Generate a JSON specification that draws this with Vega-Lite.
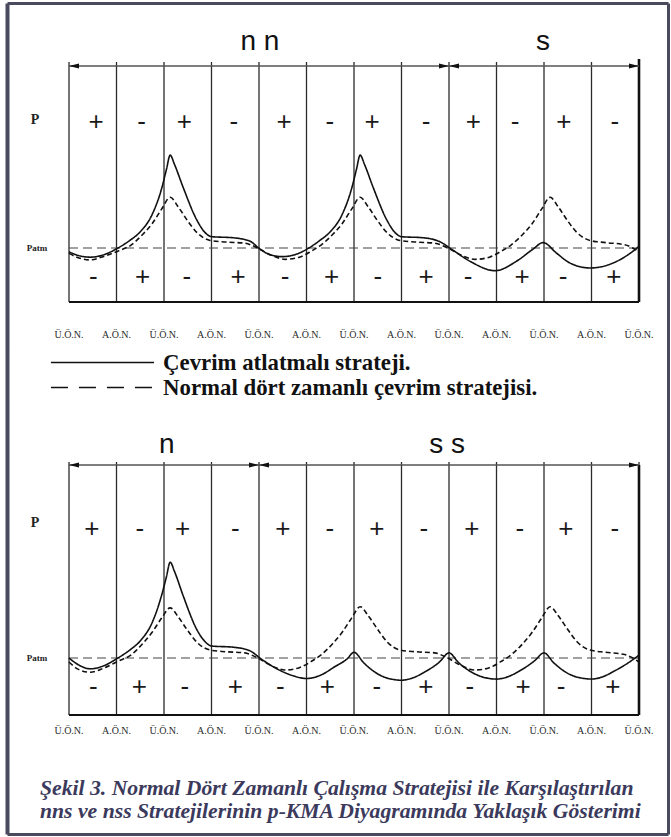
{
 "$schema": "https://vega.github.io/schema/vega-lite/v6.json",
 "padding": 0,
 "spacing": 0,
 "bounds": "flush",
 "background": "white",
 "config": {"view": {"stroke": null}},
 "resolve": {"scale": {"strokeDash": "independent"}},
 "datasets": {
  "grid": [{"s":0},{"s":1},{"s":2},{"s":3},{"s":4},{"s":5},{"s":6},{"s":7},{"s":8},{"s":9},{"s":10},{"s":11},{"s":12}],
  "dead_centres": [
   {"s":0,"label":"Ü.Ö.N."},{"s":1,"label":"A.Ö.N."},{"s":2,"label":"Ü.Ö.N."},{"s":3,"label":"A.Ö.N."},
   {"s":4,"label":"Ü.Ö.N."},{"s":5,"label":"A.Ö.N."},{"s":6,"label":"Ü.Ö.N."},{"s":7,"label":"A.Ö.N."},
   {"s":8,"label":"Ü.Ö.N."},{"s":9,"label":"A.Ö.N."},{"s":10,"label":"Ü.Ö.N."},{"s":11,"label":"A.Ö.N."},
   {"s":12,"label":"Ü.Ö.N."}
  ],
  "spans_top": [{"start":0,"end":8,"mid":4.02,"label":"n n"},{"start":8,"end":12,"mid":9.98,"label":"s"}],
  "spans_bottom": [{"start":0,"end":4,"mid":2.06,"label":"n"},{"start":4,"end":12,"mid":7.96,"label":"s s"}],
  "signs_top_upper": [
   {"s":0.57,"sign":"+"},{"s":1.53,"sign":"-"},{"s":2.43,"sign":"+"},{"s":3.47,"sign":"-"},
   {"s":4.53,"sign":"+"},{"s":5.49,"sign":"-"},{"s":6.38,"sign":"+"},{"s":7.52,"sign":"-"},
   {"s":8.51,"sign":"+"},{"s":9.39,"sign":"-"},{"s":10.42,"sign":"+"},{"s":11.49,"sign":"-"}
  ],
  "signs_top_lower": [
   {"s":0.51,"sign":"-"},{"s":1.55,"sign":"+"},{"s":2.48,"sign":"-"},{"s":3.56,"sign":"+"},
   {"s":4.55,"sign":"-"},{"s":5.53,"sign":"+"},{"s":6.5,"sign":"-"},{"s":7.52,"sign":"+"},
   {"s":8.4,"sign":"-"},{"s":9.54,"sign":"+"},{"s":10.4,"sign":"-"},{"s":11.47,"sign":"+"}
  ],
  "signs_bottom_upper": [
   {"s":0.48,"sign":"+"},{"s":1.49,"sign":"-"},{"s":2.39,"sign":"+"},{"s":3.5,"sign":"-"},
   {"s":4.5,"sign":"+"},{"s":5.49,"sign":"-"},{"s":6.48,"sign":"+"},{"s":7.47,"sign":"-"},
   {"s":8.48,"sign":"+"},{"s":9.49,"sign":"-"},{"s":10.46,"sign":"+"},{"s":11.49,"sign":"-"}
  ],
  "signs_bottom_lower": [
   {"s":0.51,"sign":"-"},{"s":1.48,"sign":"+"},{"s":2.44,"sign":"-"},{"s":3.5,"sign":"+"},
   {"s":4.45,"sign":"-"},{"s":5.44,"sign":"+"},{"s":6.48,"sign":"-"},{"s":7.51,"sign":"+"},
   {"s":8.44,"sign":"-"},{"s":9.56,"sign":"+"},{"s":10.36,"sign":"-"},{"s":11.45,"sign":"+"}
  ],
  "legend": [{"series":"Çevrim atlatmalı strateji."},{"series":"Normal dört zamanlı çevrim stratejisi."}],
  "top_curves": [
   {"s":0,"p":0.93,"series":"Çevrim atlatmalı strateji."},{"s":0.2,"p":0.86,"series":"Çevrim atlatmalı strateji."},{"s":0.45,"p":0.83,"series":"Çevrim atlatmalı strateji."},{"s":0.75,"p":0.88,"series":"Çevrim atlatmalı strateji."},{"s":1.03,"p":1.0,"series":"Çevrim atlatmalı strateji."},{"s":1.28,"p":1.14,"series":"Çevrim atlatmalı strateji."},{"s":1.5,"p":1.3,"series":"Çevrim atlatmalı strateji."},{"s":1.75,"p":1.62,"series":"Çevrim atlatmalı strateji."},{"s":1.95,"p":2.1,"series":"Çevrim atlatmalı strateji."},{"s":2.05,"p":2.45,"series":"Çevrim atlatmalı strateji."},{"s":2.13,"p":2.72,"series":"Çevrim atlatmalı strateji."},{"s":2.22,"p":2.55,"series":"Çevrim atlatmalı strateji."},{"s":2.4,"p":2.13,"series":"Çevrim atlatmalı strateji."},{"s":2.69,"p":1.52,"series":"Çevrim atlatmalı strateji."},{"s":2.85,"p":1.3,"series":"Çevrim atlatmalı strateji."},{"s":3.0,"p":1.21,"series":"Çevrim atlatmalı strateji."},{"s":3.45,"p":1.19,"series":"Çevrim atlatmalı strateji."},{"s":3.8,"p":1.13,"series":"Çevrim atlatmalı strateji."},{"s":4.05,"p":0.96,"series":"Çevrim atlatmalı strateji."},{"s":4.25,"p":0.87,"series":"Çevrim atlatmalı strateji."},{"s":4.5,"p":0.84,"series":"Çevrim atlatmalı strateji."},{"s":4.8,"p":0.89,"series":"Çevrim atlatmalı strateji."},{"s":5.05,"p":1.0,"series":"Çevrim atlatmalı strateji."},{"s":5.28,"p":1.14,"series":"Çevrim atlatmalı strateji."},{"s":5.5,"p":1.3,"series":"Çevrim atlatmalı strateji."},{"s":5.75,"p":1.62,"series":"Çevrim atlatmalı strateji."},{"s":5.95,"p":2.1,"series":"Çevrim atlatmalı strateji."},{"s":6.05,"p":2.45,"series":"Çevrim atlatmalı strateji."},{"s":6.13,"p":2.72,"series":"Çevrim atlatmalı strateji."},{"s":6.22,"p":2.55,"series":"Çevrim atlatmalı strateji."},{"s":6.4,"p":2.13,"series":"Çevrim atlatmalı strateji."},{"s":6.69,"p":1.52,"series":"Çevrim atlatmalı strateji."},{"s":6.85,"p":1.3,"series":"Çevrim atlatmalı strateji."},{"s":7.0,"p":1.21,"series":"Çevrim atlatmalı strateji."},{"s":7.45,"p":1.19,"series":"Çevrim atlatmalı strateji."},{"s":7.8,"p":1.12,"series":"Çevrim atlatmalı strateji."},{"s":8.05,"p":0.98,"series":"Çevrim atlatmalı strateji."},{"s":8.45,"p":0.75,"series":"Çevrim atlatmalı strateji."},{"s":8.97,"p":0.58,"series":"Çevrim atlatmalı strateji."},{"s":9.43,"p":0.76,"series":"Çevrim atlatmalı strateji."},{"s":9.77,"p":0.98,"series":"Çevrim atlatmalı strateji."},{"s":9.98,"p":1.1,"series":"Çevrim atlatmalı strateji."},{"s":10.27,"p":0.9,"series":"Çevrim atlatmalı strateji."},{"s":10.55,"p":0.72,"series":"Çevrim atlatmalı strateji."},{"s":10.97,"p":0.63,"series":"Çevrim atlatmalı strateji."},{"s":11.45,"p":0.72,"series":"Çevrim atlatmalı strateji."},{"s":11.81,"p":0.9,"series":"Çevrim atlatmalı strateji."},{"s":12.0,"p":1.03,"series":"Çevrim atlatmalı strateji."},
   {"s":0,"p":0.9,"series":"Normal dört zamanlı çevrim stratejisi."},{"s":0.2,"p":0.82,"series":"Normal dört zamanlı çevrim stratejisi."},{"s":0.45,"p":0.78,"series":"Normal dört zamanlı çevrim stratejisi."},{"s":0.75,"p":0.85,"series":"Normal dört zamanlı çevrim stratejisi."},{"s":1.05,"p":0.95,"series":"Normal dört zamanlı çevrim stratejisi."},{"s":1.3,"p":1.05,"series":"Normal dört zamanlı çevrim stratejisi."},{"s":1.55,"p":1.25,"series":"Normal dört zamanlı çevrim stratejisi."},{"s":1.75,"p":1.45,"series":"Normal dört zamanlı çevrim stratejisi."},{"s":1.95,"p":1.72,"series":"Normal dört zamanlı çevrim stratejisi."},{"s":2.13,"p":1.94,"series":"Normal dört zamanlı çevrim stratejisi."},{"s":2.3,"p":1.76,"series":"Normal dört zamanlı çevrim stratejisi."},{"s":2.5,"p":1.5,"series":"Normal dört zamanlı çevrim stratejisi."},{"s":2.7,"p":1.28,"series":"Normal dört zamanlı çevrim stratejisi."},{"s":2.97,"p":1.14,"series":"Normal dört zamanlı çevrim stratejisi."},{"s":3.3,"p":1.11,"series":"Normal dört zamanlı çevrim stratejisi."},{"s":3.7,"p":1.09,"series":"Normal dört zamanlı çevrim stratejisi."},{"s":3.95,"p":1.01,"series":"Normal dört zamanlı çevrim stratejisi."},{"s":4.25,"p":0.87,"series":"Normal dört zamanlı çevrim stratejisi."},{"s":4.55,"p":0.79,"series":"Normal dört zamanlı çevrim stratejisi."},{"s":4.85,"p":0.83,"series":"Normal dört zamanlı çevrim stratejisi."},{"s":5.1,"p":0.94,"series":"Normal dört zamanlı çevrim stratejisi."},{"s":5.3,"p":1.05,"series":"Normal dört zamanlı çevrim stratejisi."},{"s":5.55,"p":1.25,"series":"Normal dört zamanlı çevrim stratejisi."},{"s":5.75,"p":1.45,"series":"Normal dört zamanlı çevrim stratejisi."},{"s":5.95,"p":1.72,"series":"Normal dört zamanlı çevrim stratejisi."},{"s":6.13,"p":1.94,"series":"Normal dört zamanlı çevrim stratejisi."},{"s":6.3,"p":1.76,"series":"Normal dört zamanlı çevrim stratejisi."},{"s":6.5,"p":1.5,"series":"Normal dört zamanlı çevrim stratejisi."},{"s":6.7,"p":1.28,"series":"Normal dört zamanlı çevrim stratejisi."},{"s":6.97,"p":1.14,"series":"Normal dört zamanlı çevrim stratejisi."},{"s":7.3,"p":1.11,"series":"Normal dört zamanlı çevrim stratejisi."},{"s":7.7,"p":1.09,"series":"Normal dört zamanlı çevrim stratejisi."},{"s":7.95,"p":1.01,"series":"Normal dört zamanlı çevrim stratejisi."},{"s":8.25,"p":0.87,"series":"Normal dört zamanlı çevrim stratejisi."},{"s":8.55,"p":0.79,"series":"Normal dört zamanlı çevrim stratejisi."},{"s":8.85,"p":0.83,"series":"Normal dört zamanlı çevrim stratejisi."},{"s":9.1,"p":0.94,"series":"Normal dört zamanlı çevrim stratejisi."},{"s":9.3,"p":1.05,"series":"Normal dört zamanlı çevrim stratejisi."},{"s":9.55,"p":1.25,"series":"Normal dört zamanlı çevrim stratejisi."},{"s":9.75,"p":1.45,"series":"Normal dört zamanlı çevrim stratejisi."},{"s":9.95,"p":1.72,"series":"Normal dört zamanlı çevrim stratejisi."},{"s":10.13,"p":1.94,"series":"Normal dört zamanlı çevrim stratejisi."},{"s":10.3,"p":1.76,"series":"Normal dört zamanlı çevrim stratejisi."},{"s":10.5,"p":1.5,"series":"Normal dört zamanlı çevrim stratejisi."},{"s":10.7,"p":1.28,"series":"Normal dört zamanlı çevrim stratejisi."},{"s":10.97,"p":1.14,"series":"Normal dört zamanlı çevrim stratejisi."},{"s":11.3,"p":1.1,"series":"Normal dört zamanlı çevrim stratejisi."},{"s":11.7,"p":1.06,"series":"Normal dört zamanlı çevrim stratejisi."},{"s":12.0,"p":0.93,"series":"Normal dört zamanlı çevrim stratejisi."}
  ],
  "bottom_curves": [
   {"s":0,"p":1.0,"series":"Çevrim atlatmalı strateji."},{"s":0.2,"p":0.88,"series":"Çevrim atlatmalı strateji."},{"s":0.45,"p":0.81,"series":"Çevrim atlatmalı strateji."},{"s":0.75,"p":0.87,"series":"Çevrim atlatmalı strateji."},{"s":1.03,"p":1.0,"series":"Çevrim atlatmalı strateji."},{"s":1.28,"p":1.14,"series":"Çevrim atlatmalı strateji."},{"s":1.5,"p":1.3,"series":"Çevrim atlatmalı strateji."},{"s":1.75,"p":1.62,"series":"Çevrim atlatmalı strateji."},{"s":1.95,"p":2.1,"series":"Çevrim atlatmalı strateji."},{"s":2.05,"p":2.42,"series":"Çevrim atlatmalı strateji."},{"s":2.13,"p":2.68,"series":"Çevrim atlatmalı strateji."},{"s":2.22,"p":2.52,"series":"Çevrim atlatmalı strateji."},{"s":2.4,"p":2.1,"series":"Çevrim atlatmalı strateji."},{"s":2.69,"p":1.5,"series":"Çevrim atlatmalı strateji."},{"s":2.85,"p":1.3,"series":"Çevrim atlatmalı strateji."},{"s":3.0,"p":1.21,"series":"Çevrim atlatmalı strateji."},{"s":3.45,"p":1.19,"series":"Çevrim atlatmalı strateji."},{"s":3.8,"p":1.13,"series":"Çevrim atlatmalı strateji."},{"s":4.05,"p":0.98,"series":"Çevrim atlatmalı strateji."},{"s":4.4,"p":0.8,"series":"Çevrim atlatmalı strateji."},{"s":4.75,"p":0.68,"series":"Çevrim atlatmalı strateji."},{"s":5.0,"p":0.64,"series":"Çevrim atlatmalı strateji."},{"s":5.3,"p":0.7,"series":"Çevrim atlatmalı strateji."},{"s":5.6,"p":0.85,"series":"Çevrim atlatmalı strateji."},{"s":5.85,"p":0.98,"series":"Çevrim atlatmalı strateji."},{"s":6.0,"p":1.1,"series":"Çevrim atlatmalı strateji."},{"s":6.2,"p":0.92,"series":"Çevrim atlatmalı strateji."},{"s":6.5,"p":0.72,"series":"Çevrim atlatmalı strateji."},{"s":6.85,"p":0.62,"series":"Çevrim atlatmalı strateji."},{"s":7.0,"p":0.61,"series":"Çevrim atlatmalı strateji."},{"s":7.2,"p":0.64,"series":"Çevrim atlatmalı strateji."},{"s":7.5,"p":0.76,"series":"Çevrim atlatmalı strateji."},{"s":7.8,"p":0.93,"series":"Çevrim atlatmalı strateji."},{"s":8.0,"p":1.09,"series":"Çevrim atlatmalı strateji."},{"s":8.2,"p":0.92,"series":"Çevrim atlatmalı strateji."},{"s":8.5,"p":0.74,"series":"Çevrim atlatmalı strateji."},{"s":8.85,"p":0.64,"series":"Çevrim atlatmalı strateji."},{"s":9.0,"p":0.63,"series":"Çevrim atlatmalı strateji."},{"s":9.2,"p":0.66,"series":"Çevrim atlatmalı strateji."},{"s":9.5,"p":0.78,"series":"Çevrim atlatmalı strateji."},{"s":9.8,"p":0.95,"series":"Çevrim atlatmalı strateji."},{"s":10.0,"p":1.09,"series":"Çevrim atlatmalı strateji."},{"s":10.2,"p":0.92,"series":"Çevrim atlatmalı strateji."},{"s":10.5,"p":0.73,"series":"Çevrim atlatmalı strateji."},{"s":10.85,"p":0.64,"series":"Çevrim atlatmalı strateji."},{"s":11.0,"p":0.63,"series":"Çevrim atlatmalı strateji."},{"s":11.2,"p":0.66,"series":"Çevrim atlatmalı strateji."},{"s":11.5,"p":0.78,"series":"Çevrim atlatmalı strateji."},{"s":11.8,"p":0.93,"series":"Çevrim atlatmalı strateji."},{"s":12.0,"p":1.05,"series":"Çevrim atlatmalı strateji."},
   {"s":0,"p":0.93,"series":"Normal dört zamanlı çevrim stratejisi."},{"s":0.2,"p":0.8,"series":"Normal dört zamanlı çevrim stratejisi."},{"s":0.45,"p":0.75,"series":"Normal dört zamanlı çevrim stratejisi."},{"s":0.75,"p":0.83,"series":"Normal dört zamanlı çevrim stratejisi."},{"s":1.05,"p":0.95,"series":"Normal dört zamanlı çevrim stratejisi."},{"s":1.3,"p":1.05,"series":"Normal dört zamanlı çevrim stratejisi."},{"s":1.55,"p":1.25,"series":"Normal dört zamanlı çevrim stratejisi."},{"s":1.75,"p":1.45,"series":"Normal dört zamanlı çevrim stratejisi."},{"s":1.95,"p":1.7,"series":"Normal dört zamanlı çevrim stratejisi."},{"s":2.13,"p":1.88,"series":"Normal dört zamanlı çevrim stratejisi."},{"s":2.3,"p":1.72,"series":"Normal dört zamanlı çevrim stratejisi."},{"s":2.5,"p":1.48,"series":"Normal dört zamanlı çevrim stratejisi."},{"s":2.7,"p":1.27,"series":"Normal dört zamanlı çevrim stratejisi."},{"s":2.97,"p":1.14,"series":"Normal dört zamanlı çevrim stratejisi."},{"s":3.3,"p":1.11,"series":"Normal dört zamanlı çevrim stratejisi."},{"s":3.7,"p":1.09,"series":"Normal dört zamanlı çevrim stratejisi."},{"s":3.95,"p":1.01,"series":"Normal dört zamanlı çevrim stratejisi."},{"s":4.25,"p":0.87,"series":"Normal dört zamanlı çevrim stratejisi."},{"s":4.55,"p":0.79,"series":"Normal dört zamanlı çevrim stratejisi."},{"s":4.85,"p":0.83,"series":"Normal dört zamanlı çevrim stratejisi."},{"s":5.1,"p":0.94,"series":"Normal dört zamanlı çevrim stratejisi."},{"s":5.3,"p":1.05,"series":"Normal dört zamanlı çevrim stratejisi."},{"s":5.55,"p":1.25,"series":"Normal dört zamanlı çevrim stratejisi."},{"s":5.75,"p":1.45,"series":"Normal dört zamanlı çevrim stratejisi."},{"s":5.95,"p":1.7,"series":"Normal dört zamanlı çevrim stratejisi."},{"s":6.13,"p":1.9,"series":"Normal dört zamanlı çevrim stratejisi."},{"s":6.3,"p":1.74,"series":"Normal dört zamanlı çevrim stratejisi."},{"s":6.5,"p":1.5,"series":"Normal dört zamanlı çevrim stratejisi."},{"s":6.7,"p":1.28,"series":"Normal dört zamanlı çevrim stratejisi."},{"s":6.97,"p":1.14,"series":"Normal dört zamanlı çevrim stratejisi."},{"s":7.3,"p":1.11,"series":"Normal dört zamanlı çevrim stratejisi."},{"s":7.7,"p":1.09,"series":"Normal dört zamanlı çevrim stratejisi."},{"s":7.95,"p":1.01,"series":"Normal dört zamanlı çevrim stratejisi."},{"s":8.25,"p":0.87,"series":"Normal dört zamanlı çevrim stratejisi."},{"s":8.55,"p":0.79,"series":"Normal dört zamanlı çevrim stratejisi."},{"s":8.85,"p":0.83,"series":"Normal dört zamanlı çevrim stratejisi."},{"s":9.1,"p":0.94,"series":"Normal dört zamanlı çevrim stratejisi."},{"s":9.3,"p":1.05,"series":"Normal dört zamanlı çevrim stratejisi."},{"s":9.55,"p":1.25,"series":"Normal dört zamanlı çevrim stratejisi."},{"s":9.75,"p":1.45,"series":"Normal dört zamanlı çevrim stratejisi."},{"s":9.95,"p":1.7,"series":"Normal dört zamanlı çevrim stratejisi."},{"s":10.13,"p":1.9,"series":"Normal dört zamanlı çevrim stratejisi."},{"s":10.3,"p":1.74,"series":"Normal dört zamanlı çevrim stratejisi."},{"s":10.5,"p":1.5,"series":"Normal dört zamanlı çevrim stratejisi."},{"s":10.7,"p":1.28,"series":"Normal dört zamanlı çevrim stratejisi."},{"s":10.97,"p":1.14,"series":"Normal dört zamanlı çevrim stratejisi."},{"s":11.3,"p":1.1,"series":"Normal dört zamanlı çevrim stratejisi."},{"s":11.7,"p":1.06,"series":"Normal dört zamanlı çevrim stratejisi."},{"s":12.0,"p":0.93,"series":"Normal dört zamanlı çevrim stratejisi."}
  ]
 },
 "vconcat": [
  {
   "width": 671,
   "height": 350,
   "layer": [
    {"data": {"values": [{}]}, "mark": {"type": "rule", "stroke": "#4a4a5e", "strokeWidth": 4},
     "encoding": {"x": {"datum": -1.2947, "type": "quantitative", "scale": {"domain": [-1.4526, 12.6737], "nice": false, "zero": false}, "axis": null},
      "y": {"datum": 5.528, "type": "quantitative", "scale": {"domain": [-0.8889, 5.5926], "nice": false, "zero": false}, "axis": null},
      "y2": {"datum": -0.8889}}},
    {"data": {"values": [{}]}, "mark": {"type": "rule", "stroke": "#4a4a5e", "strokeWidth": 3},
     "encoding": {"x": {"datum": 12.621, "type": "quantitative", "scale": {"domain": [-1.4526, 12.6737], "nice": false, "zero": false}, "axis": null},
      "y": {"datum": 5.528, "type": "quantitative", "scale": {"domain": [-0.8889, 5.5926], "nice": false, "zero": false}, "axis": null},
      "y2": {"datum": -0.8889}}},
    {"data": {"values": [{}]}, "mark": {"type": "rule", "stroke": "#4a4a5e", "strokeWidth": 3},
     "encoding": {"x": {"datum": -1.2947, "type": "quantitative", "scale": {"domain": [-1.4526, 12.6737], "nice": false, "zero": false}, "axis": null},
      "x2": {"datum": 12.621},
      "y": {"datum": 5.528, "type": "quantitative", "scale": {"domain": [-0.8889, 5.5926], "nice": false, "zero": false}, "axis": null}}},
    {"data": {"name": "grid"}, "mark": {"type": "rule", "stroke": "#2b2b2b", "strokeWidth": 1.3},
     "encoding": {"x": {"field": "s", "type": "quantitative", "scale": {"domain": [-1.4526, 12.6737], "nice": false, "zero": false}, "axis": null},
      "y": {"datum": 0, "type": "quantitative", "scale": {"domain": [-0.8889, 5.5926], "nice": false, "zero": false}, "axis": null},
      "y2": {"datum": 4.444}}},
    {"data": {"values": [{}]}, "mark": {"type": "rule", "stroke": "#111111", "strokeWidth": 2.6},
     "encoding": {"x": {"datum": 12, "type": "quantitative", "scale": {"domain": [-1.4526, 12.6737], "nice": false, "zero": false}, "axis": null},
      "y": {"datum": 0, "type": "quantitative", "scale": {"domain": [-0.8889, 5.5926], "nice": false, "zero": false}, "axis": null},
      "y2": {"datum": 4.5}}},
    {"data": {"values": [{}]}, "mark": {"type": "rule", "stroke": "#111111", "strokeWidth": 2.2},
     "encoding": {"x": {"datum": 0, "type": "quantitative", "scale": {"domain": [-1.4526, 12.6737], "nice": false, "zero": false}, "axis": null},
      "x2": {"datum": 12},
      "y": {"datum": 0, "type": "quantitative", "scale": {"domain": [-0.8889, 5.5926], "nice": false, "zero": false}, "axis": null}}},
    {"data": {"values": [{}]}, "mark": {"type": "rule", "stroke": "#444444", "strokeWidth": 1.2, "strokeDash": [9, 5]},
     "encoding": {"x": {"datum": 0, "type": "quantitative", "scale": {"domain": [-1.4526, 12.6737], "nice": false, "zero": false}, "axis": null},
      "x2": {"datum": 12},
      "y": {"datum": 1, "type": "quantitative", "scale": {"domain": [-0.8889, 5.5926], "nice": false, "zero": false}, "axis": null}}},
    {"data": {"name": "spans_top"}, "mark": {"type": "rule", "stroke": "#555555", "strokeWidth": 1.3},
     "encoding": {"x": {"field": "start", "type": "quantitative", "scale": {"domain": [-1.4526, 12.6737], "nice": false, "zero": false}, "axis": null},
      "x2": {"field": "end"},
      "y": {"datum": 4.37, "type": "quantitative", "scale": {"domain": [-0.8889, 5.5926], "nice": false, "zero": false}, "axis": null}}},
    {"data": {"name": "spans_top"}, "mark": {"type": "point", "shape": "M-1,0L1,-0.5L1,0.5Z", "size": 100, "filled": true, "color": "#111111", "opacity": 1, "xOffset": 5},
     "encoding": {"x": {"field": "start", "type": "quantitative", "scale": {"domain": [-1.4526, 12.6737], "nice": false, "zero": false}, "axis": null},
      "y": {"datum": 4.37, "type": "quantitative", "scale": {"domain": [-0.8889, 5.5926], "nice": false, "zero": false}, "axis": null}}},
    {"data": {"name": "spans_top"}, "mark": {"type": "point", "shape": "M1,0L-1,-0.5L-1,0.5Z", "size": 100, "filled": true, "color": "#111111", "opacity": 1, "xOffset": -5},
     "encoding": {"x": {"field": "end", "type": "quantitative", "scale": {"domain": [-1.4526, 12.6737], "nice": false, "zero": false}, "axis": null},
      "y": {"datum": 4.37, "type": "quantitative", "scale": {"domain": [-0.8889, 5.5926], "nice": false, "zero": false}, "axis": null}}},
    {"data": {"name": "spans_top"}, "mark": {"type": "text", "font": "Liberation Sans", "fontSize": 28, "color": "#111111", "baseline": "middle"},
     "encoding": {"x": {"field": "mid", "type": "quantitative", "scale": {"domain": [-1.4526, 12.6737], "nice": false, "zero": false}, "axis": null},
      "y": {"datum": 4.815, "type": "quantitative", "scale": {"domain": [-0.8889, 5.5926], "nice": false, "zero": false}, "axis": null},
      "text": {"field": "label"}}},
    {"data": {"name": "top_curves"}, "mark": {"type": "line", "stroke": "#111111", "strokeWidth": 1.6, "interpolate": "monotone"},
     "encoding": {"x": {"field": "s", "type": "quantitative", "scale": {"domain": [-1.4526, 12.6737], "nice": false, "zero": false}, "axis": null},
      "y": {"field": "p", "type": "quantitative", "scale": {"domain": [-0.8889, 5.5926], "nice": false, "zero": false}, "axis": null},
      "strokeDash": {"field": "series", "type": "nominal", "scale": {"domain": ["Çevrim atlatmalı strateji.", "Normal dört zamanlı çevrim stratejisi."], "range": [[1, 0], [5, 3]]}, "legend": null}}},
    {"data": {"name": "signs_top_upper"}, "mark": {"type": "text", "font": "Liberation Sans", "fontSize": 26, "color": "#1a1a1a", "baseline": "middle"},
     "encoding": {"x": {"field": "s", "type": "quantitative", "scale": {"domain": [-1.4526, 12.6737], "nice": false, "zero": false}, "axis": null},
      "y": {"datum": 3.333, "type": "quantitative", "scale": {"domain": [-0.8889, 5.5926], "nice": false, "zero": false}, "axis": null},
      "text": {"field": "sign"}}},
    {"data": {"name": "signs_top_lower"}, "mark": {"type": "text", "font": "Liberation Sans", "fontSize": 26, "color": "#1a1a1a", "baseline": "middle"},
     "encoding": {"x": {"field": "s", "type": "quantitative", "scale": {"domain": [-1.4526, 12.6737], "nice": false, "zero": false}, "axis": null},
      "y": {"datum": 0.463, "type": "quantitative", "scale": {"domain": [-0.8889, 5.5926], "nice": false, "zero": false}, "axis": null},
      "text": {"field": "sign"}}},
    {"data": {"values": [{"label": "P"}]}, "mark": {"type": "text", "font": "Liberation Serif", "fontWeight": "bold", "fontSize": 14, "color": "#222222", "baseline": "middle"},
     "encoding": {"x": {"datum": -0.716, "type": "quantitative", "scale": {"domain": [-1.4526, 12.6737], "nice": false, "zero": false}, "axis": null},
      "y": {"datum": 3.37, "type": "quantitative", "scale": {"domain": [-0.8889, 5.5926], "nice": false, "zero": false}, "axis": null},
      "text": {"field": "label"}}},
    {"data": {"values": [{"label": "Patm"}]}, "mark": {"type": "text", "font": "Liberation Serif", "fontWeight": "bold", "fontSize": 9, "color": "#222222", "baseline": "middle"},
     "encoding": {"x": {"datum": -0.674, "type": "quantitative", "scale": {"domain": [-1.4526, 12.6737], "nice": false, "zero": false}, "axis": null},
      "y": {"datum": 1.0, "type": "quantitative", "scale": {"domain": [-0.8889, 5.5926], "nice": false, "zero": false}, "axis": null},
      "text": {"field": "label"}}},
    {"data": {"name": "dead_centres"}, "mark": {"type": "text", "font": "Liberation Serif", "fontSize": 10, "color": "#2a2a2a", "baseline": "middle"},
     "encoding": {"x": {"field": "s", "type": "quantitative", "scale": {"domain": [-1.4526, 12.6737], "nice": false, "zero": false}, "axis": null},
      "y": {"datum": -0.611, "type": "quantitative", "scale": {"domain": [-0.8889, 5.5926], "nice": false, "zero": false}, "axis": null},
      "text": {"field": "label"}}}
   ]
  },
  {
   "width": 671,
   "height": 50,
   "layer": [
    {"data": {"values": [{}]}, "mark": {"type": "rule", "stroke": "#4a4a5e", "strokeWidth": 4},
     "encoding": {"x": {"datum": -1.2947, "type": "quantitative", "scale": {"domain": [-1.4526, 12.6737], "nice": false, "zero": false}, "axis": null}}},
    {"data": {"values": [{}]}, "mark": {"type": "rule", "stroke": "#4a4a5e", "strokeWidth": 3},
     "encoding": {"x": {"datum": 12.621, "type": "quantitative", "scale": {"domain": [-1.4526, 12.6737], "nice": false, "zero": false}, "axis": null}}},
    {"data": {"name": "legend"}, "mark": {"type": "rule", "stroke": "#111111", "strokeWidth": 1.6},
     "encoding": {"x": {"datum": -0.38, "type": "quantitative", "scale": {"domain": [-1.4526, 12.6737], "nice": false, "zero": false}, "axis": null},
      "x2": {"datum": 1.79},
      "y": {"field": "series", "type": "nominal", "scale": {"type": "point", "domain": ["Çevrim atlatmalı strateji.", "Normal dört zamanlı çevrim stratejisi."], "padding": 0.5}, "axis": null},
      "strokeDash": {"field": "series", "type": "nominal", "scale": {"domain": ["Çevrim atlatmalı strateji.", "Normal dört zamanlı çevrim stratejisi."], "range": [[1, 0], [17, 11]]}, "legend": null}}},
    {"data": {"name": "legend"}, "mark": {"type": "text", "font": "Liberation Serif", "fontWeight": "bold", "fontSize": 22.8, "color": "#111111", "align": "left", "baseline": "middle"},
     "encoding": {"x": {"datum": 1.98, "type": "quantitative", "scale": {"domain": [-1.4526, 12.6737], "nice": false, "zero": false}, "axis": null},
      "y": {"field": "series", "type": "nominal", "scale": {"type": "point", "domain": ["Çevrim atlatmalı strateji.", "Normal dört zamanlı çevrim stratejisi."], "padding": 0.5}, "axis": null},
      "text": {"field": "series"}}}
   ]
  },
  {
   "width": 671,
   "height": 437,
   "layer": [
    {"data": {"values": [{}]}, "mark": {"type": "rule", "stroke": "#4a4a5e", "strokeWidth": 4},
     "encoding": {"x": {"datum": -1.2947, "type": "quantitative", "scale": {"domain": [-1.4526, 12.6737], "nice": false, "zero": false}, "axis": null},
      "y": {"datum": 5.5263, "type": "quantitative", "scale": {"domain": [-2.1404, 5.5263], "nice": false, "zero": false}, "axis": null},
      "y2": {"datum": -2.0965}}},
    {"data": {"values": [{}]}, "mark": {"type": "rule", "stroke": "#4a4a5e", "strokeWidth": 3},
     "encoding": {"x": {"datum": 12.621, "type": "quantitative", "scale": {"domain": [-1.4526, 12.6737], "nice": false, "zero": false}, "axis": null},
      "y": {"datum": 5.5263, "type": "quantitative", "scale": {"domain": [-2.1404, 5.5263], "nice": false, "zero": false}, "axis": null},
      "y2": {"datum": -2.0965}}},
    {"data": {"values": [{}]}, "mark": {"type": "rule", "stroke": "#4a4a5e", "strokeWidth": 3},
     "encoding": {"x": {"datum": -1.2947, "type": "quantitative", "scale": {"domain": [-1.4526, 12.6737], "nice": false, "zero": false}, "axis": null},
      "x2": {"datum": 12.621},
      "y": {"datum": -2.0965, "type": "quantitative", "scale": {"domain": [-2.1404, 5.5263], "nice": false, "zero": false}, "axis": null}}},
    {"data": {"name": "grid"}, "mark": {"type": "rule", "stroke": "#2b2b2b", "strokeWidth": 1.3},
     "encoding": {"x": {"field": "s", "type": "quantitative", "scale": {"domain": [-1.4526, 12.6737], "nice": false, "zero": false}, "axis": null},
      "y": {"datum": 0, "type": "quantitative", "scale": {"domain": [-2.1404, 5.5263], "nice": false, "zero": false}, "axis": null},
      "y2": {"datum": 4.439}}},
    {"data": {"values": [{}]}, "mark": {"type": "rule", "stroke": "#111111", "strokeWidth": 2.6},
     "encoding": {"x": {"datum": 12, "type": "quantitative", "scale": {"domain": [-1.4526, 12.6737], "nice": false, "zero": false}, "axis": null},
      "y": {"datum": 0, "type": "quantitative", "scale": {"domain": [-2.1404, 5.5263], "nice": false, "zero": false}, "axis": null},
      "y2": {"datum": 4.386}}},
    {"data": {"values": [{}]}, "mark": {"type": "rule", "stroke": "#111111", "strokeWidth": 2.2},
     "encoding": {"x": {"datum": 0, "type": "quantitative", "scale": {"domain": [-1.4526, 12.6737], "nice": false, "zero": false}, "axis": null},
      "x2": {"datum": 12},
      "y": {"datum": 0, "type": "quantitative", "scale": {"domain": [-2.1404, 5.5263], "nice": false, "zero": false}, "axis": null}}},
    {"data": {"values": [{}]}, "mark": {"type": "rule", "stroke": "#444444", "strokeWidth": 1.2, "strokeDash": [9, 5]},
     "encoding": {"x": {"datum": 0, "type": "quantitative", "scale": {"domain": [-1.4526, 12.6737], "nice": false, "zero": false}, "axis": null},
      "x2": {"datum": 12},
      "y": {"datum": 1, "type": "quantitative", "scale": {"domain": [-2.1404, 5.5263], "nice": false, "zero": false}, "axis": null}}},
    {"data": {"name": "spans_bottom"}, "mark": {"type": "rule", "stroke": "#555555", "strokeWidth": 1.3},
     "encoding": {"x": {"field": "start", "type": "quantitative", "scale": {"domain": [-1.4526, 12.6737], "nice": false, "zero": false}, "axis": null},
      "x2": {"field": "end"},
      "y": {"datum": 4.386, "type": "quantitative", "scale": {"domain": [-2.1404, 5.5263], "nice": false, "zero": false}, "axis": null}}},
    {"data": {"name": "spans_bottom"}, "mark": {"type": "point", "shape": "M-1,0L1,-0.5L1,0.5Z", "size": 100, "filled": true, "color": "#111111", "opacity": 1, "xOffset": 5},
     "encoding": {"x": {"field": "start", "type": "quantitative", "scale": {"domain": [-1.4526, 12.6737], "nice": false, "zero": false}, "axis": null},
      "y": {"datum": 4.386, "type": "quantitative", "scale": {"domain": [-2.1404, 5.5263], "nice": false, "zero": false}, "axis": null}}},
    {"data": {"name": "spans_bottom"}, "mark": {"type": "point", "shape": "M1,0L-1,-0.5L-1,0.5Z", "size": 100, "filled": true, "color": "#111111", "opacity": 1, "xOffset": -5},
     "encoding": {"x": {"field": "end", "type": "quantitative", "scale": {"domain": [-1.4526, 12.6737], "nice": false, "zero": false}, "axis": null},
      "y": {"datum": 4.386, "type": "quantitative", "scale": {"domain": [-2.1404, 5.5263], "nice": false, "zero": false}, "axis": null}}},
    {"data": {"name": "spans_bottom"}, "mark": {"type": "text", "font": "Liberation Sans", "fontSize": 28, "color": "#111111", "baseline": "middle"},
     "encoding": {"x": {"field": "mid", "type": "quantitative", "scale": {"domain": [-1.4526, 12.6737], "nice": false, "zero": false}, "axis": null},
      "y": {"datum": 4.737, "type": "quantitative", "scale": {"domain": [-2.1404, 5.5263], "nice": false, "zero": false}, "axis": null},
      "text": {"field": "label"}}},
    {"data": {"name": "bottom_curves"}, "mark": {"type": "line", "stroke": "#111111", "strokeWidth": 1.6, "interpolate": "monotone"},
     "encoding": {"x": {"field": "s", "type": "quantitative", "scale": {"domain": [-1.4526, 12.6737], "nice": false, "zero": false}, "axis": null},
      "y": {"field": "p", "type": "quantitative", "scale": {"domain": [-2.1404, 5.5263], "nice": false, "zero": false}, "axis": null},
      "strokeDash": {"field": "series", "type": "nominal", "scale": {"domain": ["Çevrim atlatmalı strateji.", "Normal dört zamanlı çevrim stratejisi."], "range": [[1, 0], [5, 3]]}, "legend": null}}},
    {"data": {"name": "signs_bottom_upper"}, "mark": {"type": "text", "font": "Liberation Sans", "fontSize": 26, "color": "#1a1a1a", "baseline": "middle"},
     "encoding": {"x": {"field": "s", "type": "quantitative", "scale": {"domain": [-1.4526, 12.6737], "nice": false, "zero": false}, "axis": null},
      "y": {"datum": 3.263, "type": "quantitative", "scale": {"domain": [-2.1404, 5.5263], "nice": false, "zero": false}, "axis": null},
      "text": {"field": "sign"}}},
    {"data": {"name": "signs_bottom_lower"}, "mark": {"type": "text", "font": "Liberation Sans", "fontSize": 26, "color": "#1a1a1a", "baseline": "middle"},
     "encoding": {"x": {"field": "s", "type": "quantitative", "scale": {"domain": [-1.4526, 12.6737], "nice": false, "zero": false}, "axis": null},
      "y": {"datum": 0.491, "type": "quantitative", "scale": {"domain": [-2.1404, 5.5263], "nice": false, "zero": false}, "axis": null},
      "text": {"field": "sign"}}},
    {"data": {"values": [{"label": "P"}]}, "mark": {"type": "text", "font": "Liberation Serif", "fontWeight": "bold", "fontSize": 14, "color": "#222222", "baseline": "middle"},
     "encoding": {"x": {"datum": -0.716, "type": "quantitative", "scale": {"domain": [-1.4526, 12.6737], "nice": false, "zero": false}, "axis": null},
      "y": {"datum": 3.368, "type": "quantitative", "scale": {"domain": [-2.1404, 5.5263], "nice": false, "zero": false}, "axis": null},
      "text": {"field": "label"}}},
    {"data": {"values": [{"label": "Patm"}]}, "mark": {"type": "text", "font": "Liberation Serif", "fontWeight": "bold", "fontSize": 9, "color": "#222222", "baseline": "middle"},
     "encoding": {"x": {"datum": -0.674, "type": "quantitative", "scale": {"domain": [-1.4526, 12.6737], "nice": false, "zero": false}, "axis": null},
      "y": {"datum": 1.0, "type": "quantitative", "scale": {"domain": [-2.1404, 5.5263], "nice": false, "zero": false}, "axis": null},
      "text": {"field": "label"}}},
    {"data": {"name": "dead_centres"}, "mark": {"type": "text", "font": "Liberation Serif", "fontSize": 10, "color": "#2a2a2a", "baseline": "middle"},
     "encoding": {"x": {"field": "s", "type": "quantitative", "scale": {"domain": [-1.4526, 12.6737], "nice": false, "zero": false}, "axis": null},
      "y": {"datum": -0.281, "type": "quantitative", "scale": {"domain": [-2.1404, 5.5263], "nice": false, "zero": false}, "axis": null},
      "text": {"field": "label"}}},
    {"data": {"values": [{"caption": "Şekil 3. Normal Dört Zamanlı Çalışma Stratejisi ile Karşılaştırılan\nnns ve nss Stratejilerinin p-KMA Diyagramında Yaklaşık Gösterimi"}]},
     "mark": {"type": "text", "font": "Liberation Serif", "fontWeight": "bold", "fontStyle": "italic", "fontSize": 21.7, "color": "#3b3a5c", "align": "left", "baseline": "middle", "lineBreak": "\n", "lineHeight": 23},
     "encoding": {"x": {"datum": -0.6105, "type": "quantitative", "scale": {"domain": [-1.4526, 12.6737], "nice": false, "zero": false}, "axis": null},
      "y": {"datum": -1.272, "type": "quantitative", "scale": {"domain": [-2.1404, 5.5263], "nice": false, "zero": false}, "axis": null},
      "text": {"field": "caption"}}}
   ]
  }
 ]
}
